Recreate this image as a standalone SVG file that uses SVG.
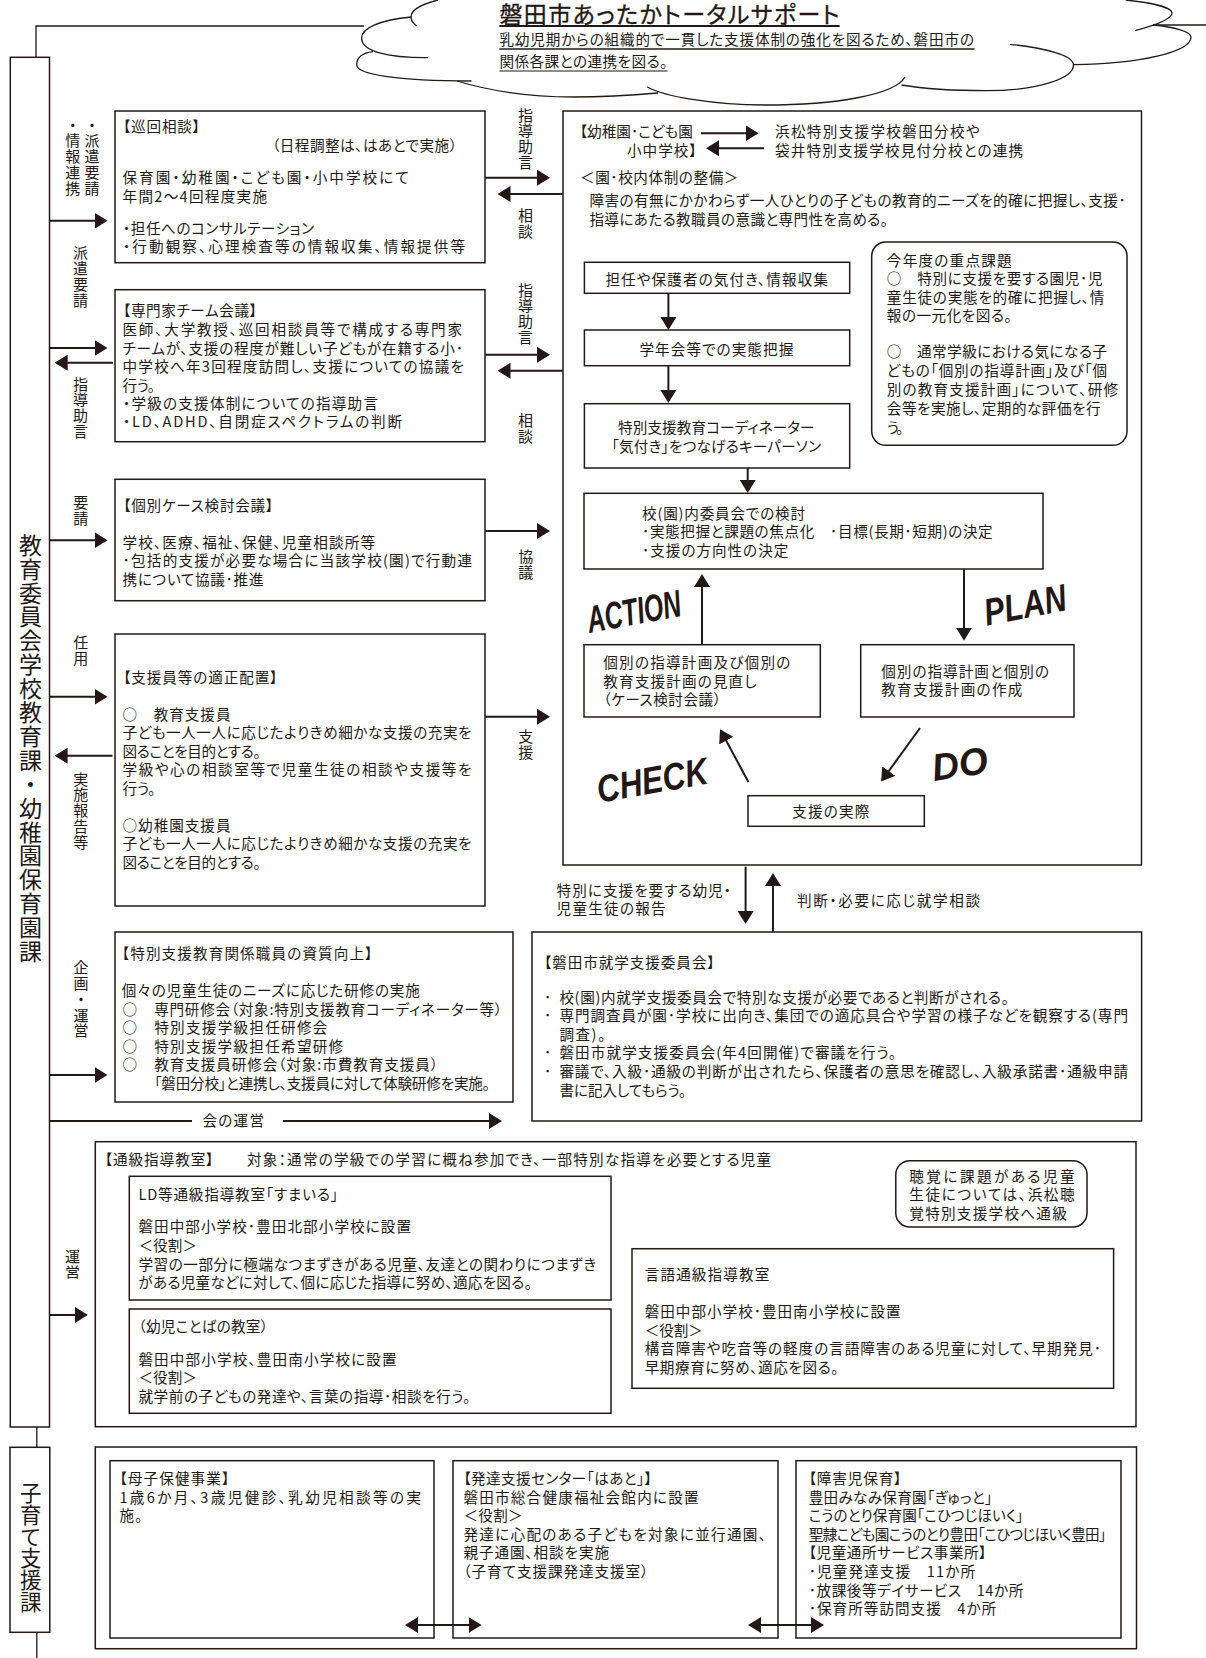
<svg xmlns="http://www.w3.org/2000/svg" width="1206" height="1658" viewBox="0 0 1206 1658">
<style>
text{font-family:"Noto Sans CJK JP","Noto Sans",sans-serif;font-size:14.6px;fill:#231815;font-feature-settings:"palt";}
.h{font-size:23px;stroke:#231815;stroke-width:.35px;}
.v{writing-mode:vertical-rl;font-size:15px;letter-spacing:.8px;font-feature-settings:normal;}
.c{writing-mode:vertical-rl;font-size:23px;letter-spacing:.9px;font-feature-settings:normal;}
.c2{writing-mode:vertical-rl;font-size:21.5px;letter-spacing:.2px;font-feature-settings:normal;}
.p{font-family:"Liberation Sans",Arial,sans-serif;font-style:italic;font-weight:700;font-size:38px;font-feature-settings:normal;}
.b{fill:none;stroke:#231815;stroke-width:1.5;}
.l{fill:none;stroke:#231815;stroke-width:1.3;}
.a{fill:none;stroke:#231815;stroke-width:2;marker-end:url(#ah);}
.d{fill:none;stroke:#231815;stroke-width:2;marker-start:url(#ah);marker-end:url(#ah);}
.u{fill:none;stroke:#231815;}
</style>
<defs>
<marker id="ah" markerUnits="userSpaceOnUse" viewBox="0 0 13 16" markerWidth="13" markerHeight="16" refX="11" refY="8" orient="auto-start-reverse"><path d="M0 0L13 8L0 16Z" fill="#231815"/></marker>
</defs>
<g id="connectors">
<path class="l" d="M36 57V26H364"/>
<path class="l" d="M36.8 1427V1447M36.8 1632V1658"/>
<path class="a" d="M50 220.7H105.5"/>
<path class="a" d="M50 348H105.5"/>
<path class="a" d="M113 362.7H56.7"/>
<path class="a" d="M50 540.3H105.5"/>
<path class="a" d="M50 696.7H105.5"/>
<path class="a" d="M112.5 755.7H56.6"/>
<path class="a" d="M50 1075H105.5"/>
<path class="a" d="M50 1315H85.8"/>
<path class="u" stroke-width="2" d="M50 1121H192"/>
<path class="a" d="M283 1121H500"/>
<path class="a" d="M485 177.7H548"/>
<path class="a" d="M563 194H499.5"/>
<path class="a" d="M485 354.7H548"/>
<path class="a" d="M563 370.7H499.5"/>
<path class="a" d="M485 531H548"/>
<path class="a" d="M485 716.7H548"/>
<path class="a" d="M701 133.3H756.5"/>
<path class="a" d="M764 148.3H708"/>
<path class="a" d="M668.4 293.3V328"/>
<path class="a" d="M668.4 365.7V401"/>
<path class="a" d="M747.7 468V491"/>
<path class="a" d="M964 569V638.7"/>
<path class="a" d="M702 644.7V576"/>
<path class="a" d="M748.4 782L721 731"/>
<path class="a" d="M920 728L882.3 780"/>
<path class="a" d="M745.6 866.7V922"/>
<path class="a" d="M773 932V875"/>
<path class="d" d="M407 1625H479.6"/>
<path class="d" d="M750 1625H822"/>
</g>
<g id="cloud">
<path class="l" d="M438 0C422 4 411 10 411 17C411 21 414 24 417 26"/>
<path class="l" d="M411.4 17C380 20 361.6 28 361.6 38C361.6 52 390 58 428 57.7"/>
<path class="l" d="M373 51.7C362 53 356.7 58 356.7 65C356.7 74 395 81 471.5 81"/>
<path class="l" d="M457 81C490 91 530 97 574 97C605 97 635 95 658 93"/>
<path class="l" d="M647 86.7C665 97 715 105 765 105C835 105 895 95 905 77"/>
<path class="l" d="M901.5 85C925 89 955 90.7 986.5 90.7C1040 90.7 1073.5 78 1073.5 65C1073.5 55 1045 48 1010 44.3"/>
<path class="l" d="M1073.5 64.7C1140 64 1191 52 1191 37C1191 32 1175 27 1153 25"/>
<path class="l" d="M1135 30.7C1160 24 1172 18 1172 13C1172 8 1155 3 1125.7 0"/>
<path class="l" d="M1153 25H1206"/>
</g>
<g id="title">
<text class="h" x="499.4" y="22.5" textLength="340">磐田市あったかトータルサポート</text>
<path class="u" stroke-width="2.2" d="M499.4 26H839.7"/>
<text x="499.4" y="44.8" textLength="474.6">乳幼児期からの組織的で一貫した支援体制の強化を図るため、磐田市の</text>
<path class="u" stroke-width="1.6" d="M499.4 49H974.5"/>
<text x="499.4" y="66.5" textLength="168">関係各課との連携を図る。</text>
<path class="u" stroke-width="1.2" d="M499.4 71H667.6"/>
</g>
<g id="labels">
<text class="v" x="92" y="117.5">・派遣要請</text>
<text class="v" x="72.7" y="117.5">・情報連携</text>
<text class="v" x="80.4" y="245">派遣要請</text>
<text class="v" x="80.4" y="376.5">指導助言</text>
<text class="v" x="525.4" y="107.5">指導助言</text>
<text class="v" x="525.4" y="208">相談</text>
<text class="v" x="525.4" y="282.5">指導助言</text>
<text class="v" x="525.4" y="413">相談</text>
<text class="v" x="80.7" y="495">要請</text>
<text class="v" x="80.7" y="635">任用</text>
<text class="v" x="80.7" y="771.5">実施報告等</text>
<text class="v" x="525.7" y="549">協議</text>
<text class="v" x="525.7" y="729">支援</text>
<text class="v" x="81" y="960">企画・運営</text>
<text class="v" x="72.4" y="1248.5">運営</text>
<text x="202.5" y="1125.8" textLength="61.5">会の運営</text>
<text x="556.6" y="895.5" textLength="174.4">特別に支援を要する幼児・</text>
<text x="556.6" y="913.8" textLength="109">児童生徒の報告</text>
<text x="797" y="905.5" textLength="183">判断・必要に応じ就学相談</text>
</g>
<g id="dept-education">
<rect class="b" x="10.3" y="57.3" width="39.2" height="1369.7"/>
<text class="c" x="30.4" y="533.5">教育委員会学校教育課・幼稚園保育園課</text>
</g>
<g id="dept-childcare">
<rect class="b" x="10" y="1447.3" width="39.8" height="185"/>
<text class="c2" x="30.8" y="1482.2">子育て支援課</text>
</g>
<g id="n-junkai">
<rect class="b" x="115" y="111" width="370" height="151.7"/>
<text x="123" y="132" textLength="77">【巡回相談】</text>
<text x="272" y="151" textLength="185">（日程調整は、はあとで実施）</text>
<text x="122.5" y="182.8" textLength="286.2">保育園・幼稚園・こども園・小中学校にて</text>
<text x="122.5" y="202" textLength="144.5">年間2〜4回程度実施</text>
<text x="123" y="233.8" textLength="191">・担任へのコンサルテーション</text>
<text x="123" y="252" textLength="342">・行動観察、心理検査等の情報収集、情報提供等</text>
</g>
<g id="n-senmonka">
<rect class="b" x="115" y="289.7" width="370" height="152"/>
<text x="123" y="315.5" textLength="134">【専門家チーム会議】</text>
<text x="122.5" y="334.8" textLength="339.5">医師、大学教授、巡回相談員等で構成する専門家</text>
<text x="122.5" y="353.5" textLength="340.5">チームが、支援の程度が難しい子どもが在籍する小･</text>
<text x="122.5" y="372" textLength="341.5">中学校へ年3回程度訪問し、支援についての協議を</text>
<text x="122.5" y="390.8" textLength="32.5">行う。</text>
<text x="123" y="408.8" textLength="255">・学級の支援体制についての指導助言</text>
<text x="123" y="427" textLength="279">・LD、ADHD、自閉症スペクトラムの判断</text>
</g>
<g id="n-kobetsu">
<rect class="b" x="115" y="479.3" width="370" height="121.4"/>
<text x="123.2" y="510.5" textLength="150">【個別ケース検討会議】</text>
<text x="122.5" y="547.8" textLength="252.5">学校、医療、福祉、保健、児童相談所等</text>
<text x="122.5" y="565.8" textLength="349.5">･包括的支援が必要な場合に当該学校(園)で行動連</text>
<text x="122.5" y="584.8" textLength="141">携について協議･推進</text>
</g>
<g id="n-shienin">
<rect class="b" x="115" y="634" width="370" height="272"/>
<text x="123.2" y="682.5" textLength="154.3">【支援員等の適正配置】</text>
<text x="122.5" y="719.8" textLength="108">○　教育支援員</text>
<text x="122.5" y="737.8" textLength="349">子ども一人一人に応じたよりきめ細かな支援の充実を</text>
<text x="122.5" y="756.5" textLength="138.2">図ることを目的とする。</text>
<text x="122.5" y="774.5" textLength="349">学級や心の相談室等で児童生徒の相談や支援等を</text>
<text x="122.5" y="793.8" textLength="33">行う。</text>
<text x="122.5" y="830.5" textLength="108">○幼稚園支援員</text>
<text x="122.5" y="848.8" textLength="349">子ども一人一人に応じたよりきめ細かな支援の充実を</text>
<text x="122.5" y="867.5" textLength="138.2">図ることを目的とする。</text>
</g>
<g id="n-kenshu">
<rect class="b" x="115" y="932" width="398" height="170"/>
<text x="121.8" y="958.8" textLength="250.7">【特別支援教育関係職員の資質向上】</text>
<text x="121.8" y="995.8" textLength="298">個々の児童生徒のニーズに応じた研修の実施</text>
<text x="122.6" y="1014.5">○</text><text x="154.2" y="1014.5" textLength="347.8">専門研修会（対象:特別支援教育コーディネーター等）</text>
<text x="122.6" y="1032.8">○</text><text x="154.2" y="1032.8" textLength="173.2">特別支援学級担任研修会</text>
<text x="122.6" y="1051.5">○</text><text x="154.2" y="1051.5" textLength="189">特別支援学級担任希望研修</text>
<text x="122.6" y="1069.8">○</text><text x="154.2" y="1069.8" textLength="283.8">教育支援員研修会（対象:市費教育支援員）</text>
<text x="154.2" y="1088.5" textLength="335.8">「磐田分校」と連携し、支援員に対して体験研修を実施。</text>
</g>
<g id="n-main">
<rect class="b" x="563" y="111" width="578.5" height="754"/>
<text x="579.8" y="137" textLength="113">【幼稚園･こども園</text>
<text x="627" y="156" textLength="69.6">小中学校】</text>
<text x="775" y="137" textLength="204.6">浜松特別支援学校磐田分校や</text>
<text x="775" y="156" textLength="248">袋井特別支援学校見付分校との連携</text>
<text x="580" y="183" textLength="158.4">＜園･校内体制の整備＞</text>
<text x="589.4" y="206" textLength="536.3">障害の有無にかかわらず一人ひとりの子どもの教育的ニーズを的確に把握し、支援･</text>
<text x="589.4" y="224.8" textLength="298.6">指導にあたる教職員の意識と専門性を高める。</text>
</g>
<g id="n-kizuki">
<rect class="b" x="584.4" y="262.3" width="265.3" height="31"/>
<text x="605.4" y="284.8" textLength="222.6">担任や保護者の気付き、情報収集</text>
</g>
<g id="n-gakunen">
<rect class="b" x="584.4" y="330" width="265.3" height="35.7"/>
<text x="639.4" y="354.8" textLength="153.9">学年会等での実態把握</text>
</g>
<g id="n-coordinator">
<rect class="b" x="584.4" y="403.7" width="265.3" height="64.3"/>
<text x="618" y="432.8" textLength="196.5">特別支援教育コーディネーター</text>
<text x="611.6" y="451.5" textLength="209.4">「気付き」をつなげるキーパーソン</text>
</g>
<g id="n-juten">
<rect class="b" x="871.7" y="242" width="255.3" height="203.3" rx="14"/>
<text x="886.8" y="265.5" textLength="124.9">今年度の重点課題</text>
<text x="886.8" y="284" textLength="215.7">○　特別に支援を要する園児･児</text>
<text x="886.8" y="302.8" textLength="217.6">童生徒の実態を的確に把握し、情</text>
<text x="886.8" y="320.5" textLength="124.9">報の一元化を図る。</text>
<text x="886.8" y="357" textLength="220.2">○　通常学級における気になる子</text>
<text x="886.8" y="376" textLength="220.2">どもの「個別の指導計画」及び「個</text>
<text x="886.8" y="394.8" textLength="231.2">別の教育支援計画」について、研修</text>
<text x="886.8" y="413.8" textLength="213.8">会等を実施し、定期的な評価を行</text>
<text x="886.8" y="432.8" textLength="16.6">う。</text>
</g>
<g id="n-iinkai">
<rect class="b" x="584" y="493.3" width="459" height="75.7"/>
<text x="642" y="518.8" textLength="163">校(園)内委員会での検討</text>
<text x="642" y="537" textLength="350.7">･実態把握と課題の焦点化　･目標(長期･短期)の決定</text>
<text x="642" y="555.8" textLength="146.3">･支援の方向性の決定</text>
</g>
<g id="n-action">
<rect class="b" x="584" y="644.7" width="236.3" height="72.3"/>
<text x="603.3" y="667.5" textLength="187">個別の指導計画及び個別の</text>
<text x="603.3" y="686.5" textLength="153.4">教育支援計画の見直し</text>
<text x="603.3" y="704.8" textLength="117.7">（ケース検討会議）</text>
</g>
<g id="n-plan">
<rect class="b" x="860.7" y="644.7" width="213.3" height="72.3"/>
<text x="881.2" y="676.5" textLength="167.8">個別の指導計画と個別の</text>
<text x="881.2" y="695" textLength="141.2">教育支援計画の作成</text>
</g>
<g id="n-do">
<rect class="b" x="748" y="795.7" width="176.3" height="30.6"/>
<text x="792.3" y="816.5" textLength="77.1">支援の実際</text>
</g>
<g id="pdca">
<text class="p" transform="translate(589.4 633) rotate(-10.5)" textLength="95" lengthAdjust="spacingAndGlyphs">ACTION</text>
<text class="p" transform="translate(986.8 625.7) rotate(-11)" textLength="83" lengthAdjust="spacingAndGlyphs">PLAN</text>
<text class="p" transform="translate(599.3 802.7) rotate(-10)" textLength="112" lengthAdjust="spacingAndGlyphs">CHECK</text>
<text class="p" transform="translate(934 781) rotate(-8.5)" textLength="56" lengthAdjust="spacingAndGlyphs">DO</text>
</g>
<g id="n-shugaku">
<rect class="b" x="532" y="932" width="609.6" height="189"/>
<text x="544" y="967.8" textLength="170.7">【磐田市就学支援委員会】</text>
<text x="544" y="1002.8">･</text><text x="559.4" y="1002.8" textLength="449.6">校(園)内就学支援委員会で特別な支援が必要であると判断がされる。</text>
<text x="544" y="1021">･</text><text x="559.4" y="1021" textLength="568.6">専門調査員が園･学校に出向き、集団での適応具合や学習の様子などを観察する(専門</text>
<text x="559.4" y="1039.8" textLength="45.9">調査)。</text>
<text x="544" y="1058">･</text><text x="559.4" y="1058" textLength="336.8">磐田市就学支援委員会(年4回開催)で審議を行う。</text>
<text x="544" y="1077">･</text><text x="559.4" y="1077" textLength="568.6">審議で、入級･通級の判断が出されたら、保護者の意思を確認し、入級承諾書･通級申請</text>
<text x="559.4" y="1095.5" textLength="126.8">書に記入してもらう。</text>
</g>
<g id="n-tsukyu">
<rect class="b" x="95.3" y="1141.7" width="1040.7" height="285"/>
<text x="104.8" y="1164.5" textLength="108.7">【通級指導教室】</text>
<text x="247" y="1164.5" textLength="524">対象：通常の学級での学習に概ね参加でき、一部特別な指導を必要とする児童</text>
</g>
<g id="n-ld">
<rect class="b" x="129.3" y="1176.3" width="481.7" height="123.7"/>
<text x="138.4" y="1199.8" textLength="199.6">LD等通級指導教室「すまいる」</text>
<text x="138.4" y="1231.8" textLength="272.6">磐田中部小学校･豊田北部小学校に設置</text>
<text x="138.4" y="1250.8" textLength="58.6">＜役割＞</text>
<text x="138.4" y="1269.5" textLength="457.9">学習の一部分に極端なつまずきがある児童、友達との関わりにつまずき</text>
<text x="138.4" y="1287.8" textLength="393.4">がある児童などに対して、個に応じた指導に努め、適応を図る。</text>
</g>
<g id="n-kotoba">
<rect class="b" x="129.3" y="1309" width="481.7" height="104.3"/>
<text x="138.4" y="1332" textLength="129.6">（幼児ことばの教室）</text>
<text x="138.4" y="1364.8" textLength="258.2">磐田中部小学校、豊田南小学校に設置</text>
<text x="138.4" y="1383" textLength="58.6">＜役割＞</text>
<text x="138.4" y="1402" textLength="332.1">就学前の子どもの発達や、言葉の指導･相談を行う。</text>
</g>
<g id="n-choukaku">
<rect class="b" x="895.8" y="1160.7" width="191.2" height="66.3" rx="14"/>
<text x="909.3" y="1181.5" textLength="165.4">聴覚に課題がある児童</text>
<text x="909.3" y="1200" textLength="165.4">生徒については、浜松聴</text>
<text x="909.3" y="1218.8" textLength="157.5">覚特別支援学校へ通級</text>
</g>
<g id="n-gengo">
<rect class="b" x="632" y="1248.7" width="481.6" height="139.6"/>
<text x="644.7" y="1279.8" textLength="124.6">言語通級指導教室</text>
<text x="644.7" y="1316.5" textLength="255.9">磐田中部小学校･豊田南小学校に設置</text>
<text x="644.7" y="1335.5" textLength="58.2">＜役割＞</text>
<text x="644.7" y="1353.8" textLength="456.3">構音障害や吃音等の軽度の言語障害のある児童に対して、早期発見･</text>
<text x="644.7" y="1372.8" textLength="193.8">早期療育に努め、適応を図る。</text>
</g>
<g id="n-kosodate">
<rect class="b" x="95.3" y="1447" width="1041.2" height="201.7"/>
</g>
<g id="n-boshi">
<rect class="b" x="110" y="1460.7" width="324" height="177.3"/>
<text x="119.4" y="1483.8" textLength="109.9">【母子保健事業】</text>
<text x="119.4" y="1502.8" textLength="301.6">1歳6か月、3歳児健診、乳幼児相談等の実</text>
<text x="119.4" y="1521" textLength="22.9">施。</text>
</g>
<g id="n-hatsu">
<rect class="b" x="453" y="1460.7" width="325" height="177.3"/>
<text x="463.4" y="1483.8" textLength="188.6">【発達支援センター「はあと」】</text>
<text x="463.4" y="1502.8" textLength="235.2">磐田市総合健康福祉会館内に設置</text>
<text x="463.4" y="1521" textLength="59.3">＜役割＞</text>
<text x="463.4" y="1539.5" textLength="302.6">発達に心配のある子どもを対象に並行通園、</text>
<text x="463.4" y="1558" textLength="145.6">親子通園、相談を実施</text>
<text x="463.4" y="1576.5" textLength="184.9">（子育て支援課発達支援室）</text>
</g>
<g id="n-shogai">
<rect class="b" x="796" y="1460.7" width="325" height="177.3"/>
<text x="808.7" y="1483.8" textLength="92.8">【障害児保育】</text>
<text x="808.7" y="1502.5" textLength="183.6">豊田みなみ保育園「ぎゅっと」</text>
<text x="808.7" y="1521" textLength="214.6">こうのとり保育園「こひつじほいく」</text>
<text x="808.7" y="1539.8" textLength="297.7">聖隷こども園こうのとり豊田「こひつじほいく豊田」</text>
<text x="808.7" y="1558" textLength="177.8">【児童通所サービス事業所】</text>
<text x="808.7" y="1576.5" textLength="166.3">･児童発達支援　11か所</text>
<text x="808.7" y="1595.5" textLength="214.6">･放課後等デイサービス　14か所</text>
<text x="808.7" y="1613.8" textLength="187.5">･保育所等訪問支援　4か所</text>
</g>
</svg>
